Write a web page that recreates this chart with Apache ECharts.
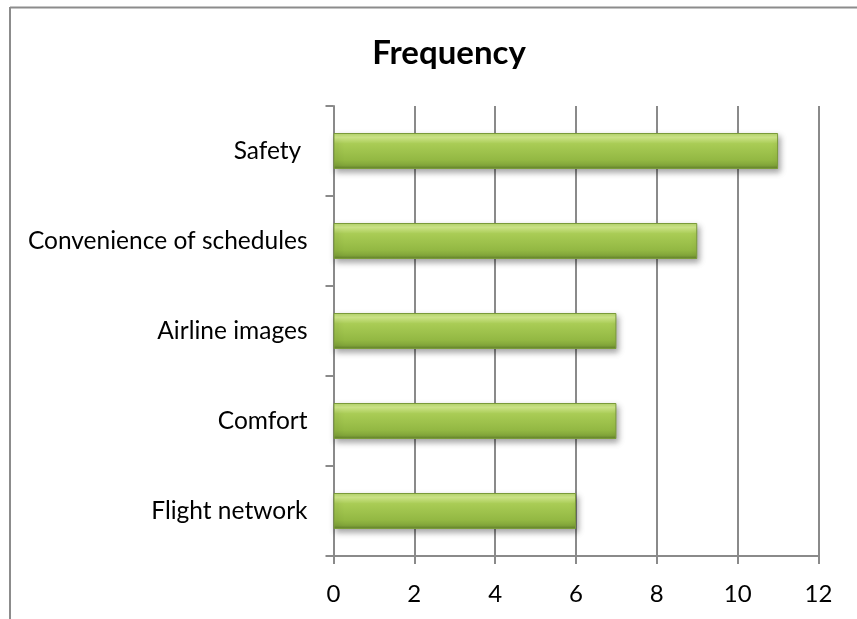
<!DOCTYPE html>
<html>
<head>
<meta charset="utf-8">
<script src="https://cdn.jsdelivr.net/npm/echarts@6/dist/echarts.min.js"></script>
<style>
  html, body { margin: 0; padding: 0; background: #fff; }
  #chart { width: 857px; height: 619px; }
</style>
</head>
<body>
<div id="chart"></div>
<script>
// Reasons for choosing an airline, with how often each was cited
const categories = ['Flight network', 'Comfort', 'Airline images', 'Convenience of schedules', 'Safety '];
const frequency = [6, 7, 7, 9, 11];
const xTicks = { min: 0, max: 12, interval: 2 };
const chartTitle = 'Frequency';

const font = 'Lato, "Open Sans", sans-serif';
const gridGray = '#8a8a8a';

const chart = echarts.init(document.getElementById('chart'), null, { renderer: 'canvas' });

chart.setOption({
  animation: false,
  backgroundColor: '#ffffff',
  title: {
    text: chartTitle,
    left: 444,
    top: 32,
    textAlign: 'center',
    textStyle: { fontFamily: font, fontSize: 33, fontWeight: 'bold', color: '#000' }
  },
  graphic: [
    { type: 'line', shape: { x1: 10, y1: 7.5, x2: 857, y2: 7.5 }, style: { stroke: '#8c8c8c', lineWidth: 2 }, silent: true },
    { type: 'line', shape: { x1: 10, y1: 7, x2: 10, y2: 619 }, style: { stroke: '#8c8c8c', lineWidth: 2 }, silent: true }
  ],
  grid: { left: 333.5, right: 857 - 818.5, top: 106, bottom: 619 - 556, containLabel: false },
  xAxis: {
    type: 'value',
    min: xTicks.min,
    max: xTicks.max,
    interval: xTicks.interval,
    axisLine: { show: true, lineStyle: { color: gridGray, width: 2 } },
    axisTick: { show: true, length: 8, lineStyle: { color: gridGray, width: 2 } },
    splitLine: { show: true, lineStyle: { color: gridGray, width: 2 } },
    axisLabel: { margin: 26, fontFamily: font, fontSize: 24, color: '#000' }
  },
  yAxis: {
    type: 'category',
    data: categories,
    axisLine: { show: true, lineStyle: { color: gridGray, width: 2 } },
    axisTick: { show: true, length: 8, lineStyle: { color: gridGray, width: 2 } },
    axisLabel: { margin: 26, fontFamily: font, fontSize: 24.5, color: '#000' }
  },
  series: [{
    type: 'bar',
    data: frequency,
    barWidth: '40%',
    itemStyle: {
      color: new echarts.graphic.LinearGradient(0, 0, 0, 1, [
        { offset: 0, color: '#b4d46a' },
        { offset: 0.12, color: '#d3ec8c' },
        { offset: 0.3, color: '#a9cc55' },
        { offset: 0.75, color: '#93b843' },
        { offset: 0.9, color: '#82a53a' },
        { offset: 1, color: '#5f7d2a' }
      ]),
      borderColor: '#7a9a3a',
      borderWidth: 1,
      shadowColor: 'rgba(0,0,0,0.35)',
      shadowBlur: 6,
      shadowOffsetX: 2,
      shadowOffsetY: 3
    }
  }]
});
</script>
</body>
</html>
